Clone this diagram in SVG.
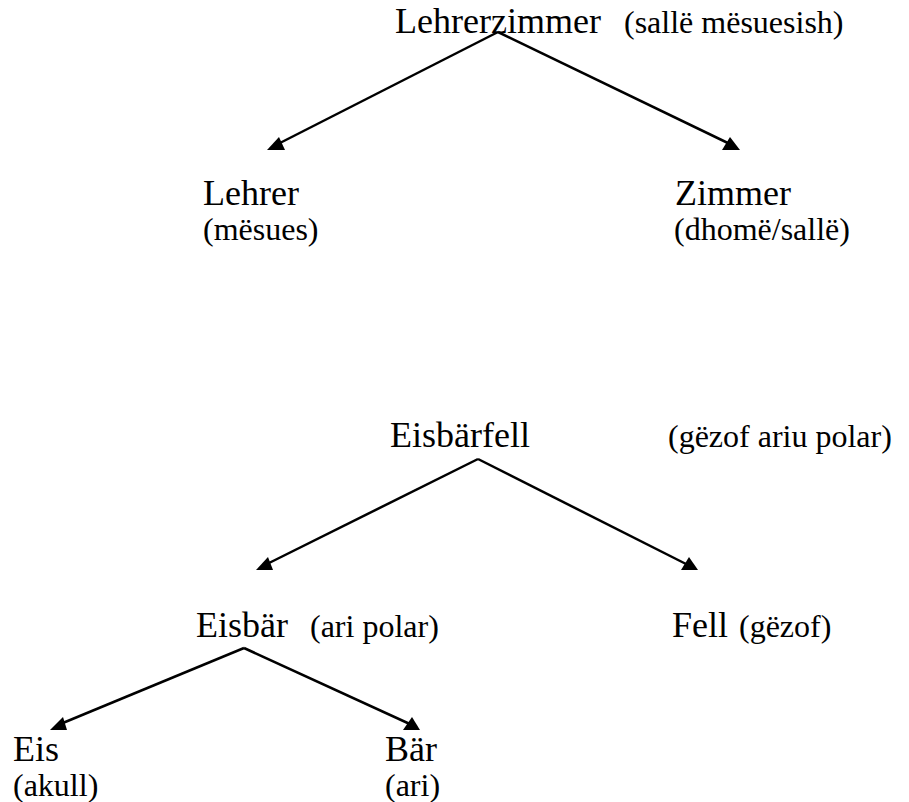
<svg xmlns="http://www.w3.org/2000/svg" width="909" height="802" viewBox="0 0 909 802">
  <style>
    text { font-family: 'Liberation Serif', 'Times New Roman', serif; fill: #000; }
    .word { font-size: 36px; }
    .gloss { font-size: 32px; }
    .edge { stroke: #000; stroke-width: 2.5; fill: none; }
    .head { fill: #000; stroke: none; }
  </style>
  <rect width="909" height="802" fill="#fff"/>

  <!-- connectors: straight lines ending in flat-based filled arrowheads -->
  <g id="connectors">
    <line class="edge" x1="498" y1="32" x2="276" y2="145"/>
    <polygon class="head" points="267,150 285,150 279,137"/>
    <line class="edge" x1="498" y1="32" x2="732" y2="145"/>
    <polygon class="head" points="722,150 740,150 730,137"/>

    <line class="edge" x1="478" y1="459" x2="263" y2="566"/>
    <polygon class="head" points="256,570 273,570 268,557"/>
    <line class="edge" x1="478" y1="459" x2="690" y2="566"/>
    <polygon class="head" points="681,570 698,570 689,557"/>

    <line class="edge" x1="244" y1="648" x2="58" y2="725"/>
    <polygon class="head" points="50,730 67,730 63,717"/>
    <line class="edge" x1="244" y1="648" x2="412" y2="725"/>
    <polygon class="head" points="403,730 420,730 412,717"/>
  </g>

  <g id="lehrerzimmer">
    <text class="word" x="395" y="33">Lehrerzimmer</text>
    <text class="gloss" x="624" y="33">(sallë mësuesish)</text>
  </g>
  <g id="lehrer">
    <text class="word" x="203" y="205">Lehrer</text>
    <text class="gloss" x="203" y="240">(mësues)</text>
  </g>
  <g id="zimmer">
    <text class="word" x="675" y="205">Zimmer</text>
    <text class="gloss" x="674" y="240">(dhomë/sallë)</text>
  </g>

  <g id="eisbaerfell">
    <text class="word" x="390" y="447">Eisbärfell</text>
    <text class="gloss" x="668" y="447">(gëzof ariu polar)</text>
  </g>
  <g id="eisbaer">
    <text class="word" x="196" y="637">Eisbär</text>
    <text class="gloss" x="310" y="637">(ari polar)</text>
  </g>
  <g id="fell">
    <text class="word" x="672" y="637">Fell</text>
    <text class="gloss" x="739" y="637">(gëzof)</text>
  </g>
  <g id="eis">
    <text class="word" x="13" y="761">Eis</text>
    <text class="gloss" x="13" y="796">(akull)</text>
  </g>
  <g id="baer">
    <text class="word" x="385" y="761">Bär</text>
    <text class="gloss" x="385" y="796">(ari)</text>
  </g>
</svg>
